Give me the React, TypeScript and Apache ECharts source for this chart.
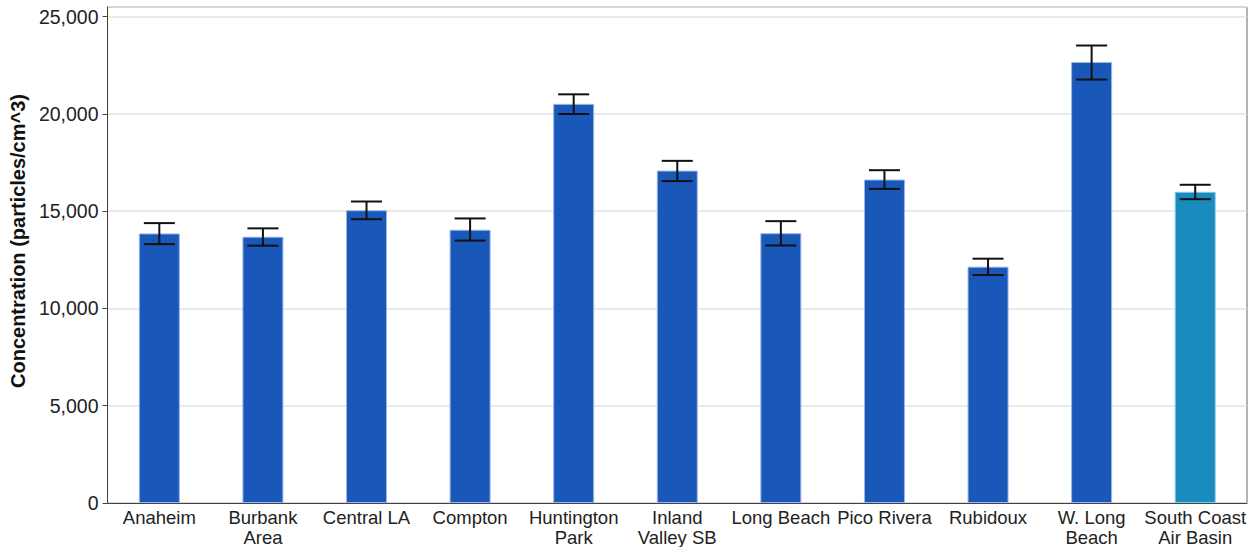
import React, { useEffect, useRef } from "react";
import * as echarts from "echarts";

const categories = [
  "Anaheim",
  "Burbank\nArea",
  "Central LA",
  "Compton",
  "Huntington\nPark",
  "Inland\nValley SB",
  "Long Beach",
  "Pico Rivera",
  "Rubidoux",
  "W. Long\nBeach",
  "South Coast\nAir Basin",
];
const values = [13860, 13690, 15050, 14050, 20520, 17090, 13870, 16630, 12150, 22670, 16000];
const errLow = [13310, 13230, 14590, 13490, 20000, 16550, 13240, 16150, 11720, 21770, 15620];
const errHigh = [14390, 14120, 15500, 14630, 21010, 17590, 14490, 17110, 12560, 23520, 16360];
const yTicks = [0, 5000, 10000, 15000, 20000, 25000];

const FONT = "'Liberation Sans', Arial, sans-serif";

export default function App() {
  const ref = useRef<HTMLDivElement>(null);
  useEffect(() => {
    if (!ref.current) return;
    const chart = echarts.init(ref.current, undefined, { renderer: "svg" });
    const barData = values.map((v, i) => {
      const last = i === values.length - 1;
      return {
        value: v,
        itemStyle: {
          color: last ? "#1A8BBE" : "#1957B8",
          borderColor: last ? "#8CC8E4" : "#9AB6E8",
          borderWidth: 1,
        },
      };
    });
    chart.setOption({
      animation: false,
      grid: {
        left: 107,
        right: 3,
        top: 7,
        bottom: 43,
        show: true,
        borderColor: "#666",
        borderWidth: 1,
        backgroundColor: "transparent",
      },
      xAxis: {
        type: "category",
        data: categories,
        axisLine: { lineStyle: { color: "#444" } },
        axisTick: { show: false },
        axisLabel: {
          interval: 0,
          fontSize: 18.5,
          lineHeight: 20,
          color: "#222",
          fontFamily: FONT,
          margin: 4,
        },
      },
      yAxis: {
        type: "value",
        min: 0,
        max: 25500,
        interval: 5000,
        name: "Concentration (particles/cm^3)",
        nameLocation: "middle",
        nameGap: 76,
        nameTextStyle: {
          fontSize: 20,
          fontWeight: "bold",
          color: "#111",
          fontFamily: FONT,
          padding: [0, 0, 0, 28],
        },
        axisLine: { show: true, lineStyle: { color: "#444" } },
        axisTick: { show: true, length: 5, lineStyle: { color: "#444" } },
        axisLabel: {
          fontSize: 19.5,
          color: "#222",
          fontFamily: FONT,
          margin: 9,
          showMaxLabel: false,
          formatter: (v: number) =>
            yTicks.includes(v) ? v.toLocaleString("en-US") : "",
        },
        splitLine: { show: true, lineStyle: { color: "#e3e3e3", width: 1.5 } },
      },
      series: [
        {
          type: "bar",
          data: barData,
          barWidth: 41,
        },
        {
          type: "custom",
          data: values.map((_, i) => [i, errLow[i], errHigh[i]]),
          renderItem: (params: any, api: any) => {
            const idx = api.value(0);
            const lo = api.coord([idx, api.value(1)]);
            const hi = api.coord([idx, api.value(2)]);
            const hw = 15.5;
            const style = { stroke: "#111", lineWidth: 2 };
            return {
              type: "group",
              children: [
                { type: "line", shape: { x1: lo[0], y1: lo[1], x2: hi[0], y2: hi[1] }, style },
                { type: "line", shape: { x1: hi[0] - hw, y1: hi[1], x2: hi[0] + hw, y2: hi[1] }, style },
                { type: "line", shape: { x1: lo[0] - hw, y1: lo[1], x2: lo[0] + hw, y2: lo[1] }, style },
              ],
            };
          },
          z: 10,
        },
      ],
    });
    return () => chart.dispose();
  }, []);
  return (
    <div
      ref={ref}
      style={{ position: "absolute", left: 0, top: 0, width: 1250, height: 547, background: "#fff" }}
    />
  );
}
